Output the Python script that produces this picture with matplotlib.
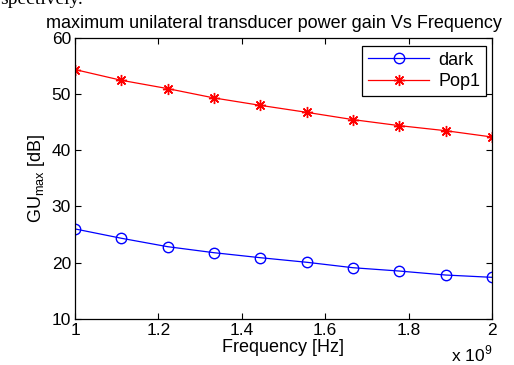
import numpy as np
import matplotlib
matplotlib.use("Agg")
import matplotlib.pyplot as plt

plt.rcParams['font.family'] = ['Liberation Sans', 'DejaVu Sans']
plt.rcParams['mathtext.fontset'] = 'custom'
plt.rcParams['mathtext.rm'] = 'Liberation Sans'

freq_ghz = [1.0, 1.111, 1.222, 1.333, 1.444, 1.556, 1.667, 1.778, 1.889, 2.0]
dark = [25.98, 24.32, 22.82, 21.75, 20.86, 20.04, 19.07, 18.48, 17.77, 17.36]
pop1 = [54.37, 52.46, 50.98, 49.32, 48.0, 46.75, 45.45, 44.38, 43.48, 42.36]
xticks = [1.0, 1.2, 1.4, 1.6, 1.8, 2.0]
xtick_labels = ['1', '1.2', '1.4', '1.6', '1.8', '2']
yticks = [10, 20, 30, 40, 50, 60]

fig = plt.figure(figsize=(5.14, 3.65), dpi=100)
ax = fig.add_axes([0.146, 0.127, 0.811, 0.769])

ax.plot(freq_ghz, dark, color='blue', lw=0.9, marker='o', ms=7.5,
        mfc='none', mec='blue', mew=1.0, label='dark')
ax.plot(freq_ghz, pop1, color='red', lw=0.9, marker=(8, 2, 0), ms=8,
        mec='red', mew=1.0, label='Pop1')

ax.set_xlim(1.0, 2.0)
ax.set_ylim(10, 60)
ax.set_xticks(xticks)
ax.set_xticklabels(xtick_labels)
ax.set_yticks(yticks)
ax.tick_params(direction='in', top=True, right=True, length=4, width=0.8,
               labelsize=12.5, pad=3, colors='black')
for s in ax.spines.values():
    s.set_linewidth(0.9)

ax.set_title('maximum unilateral transducer power gain Vs Frequency',
             fontsize=13, pad=7, x=0.477)
ax.set_xlabel('Frequency [Hz]', fontsize=13, labelpad=1)
ax.set_ylabel(r'GU$_{\mathrm{max}}$ [dB]', fontsize=13, labelpad=3)

fig.text(0.958, 0.003, r'x 10$^{9}$', ha='right', va='bottom', fontsize=12.5)

leg = ax.legend(loc='upper right', bbox_to_anchor=(0.985, 0.97),
                fontsize=13, fancybox=False, framealpha=1,
                edgecolor='black', borderpad=0.3, handlelength=3.4,
                labelspacing=0.25, borderaxespad=0, handletextpad=0.5)
leg.get_frame().set_linewidth(0.9)

fig.text(0.162, 1.0 - 4.0 / 365, 'spectively.', ha='right', va='baseline',
         fontsize=14, family='Liberation Serif')

fig.savefig('out.png', dpi=100)
